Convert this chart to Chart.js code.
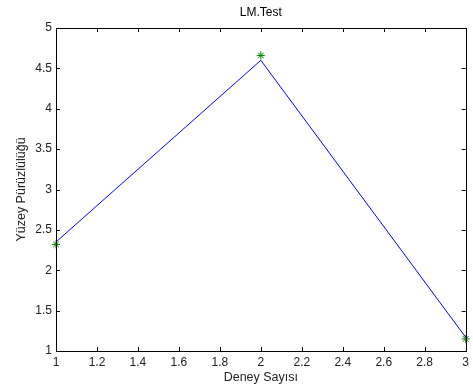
<!DOCTYPE html>
<html>
<head>
<meta charset="utf-8">
<script src="https://cdn.jsdelivr.net/npm/chart.js@4.4.0/dist/chart.umd.min.js"></script>
<style>
  html, body { margin: 0; padding: 0; background: #fff; }
  #wrap { width: 473px; height: 392px; }
</style>
</head>
<body>
<div id="wrap"><canvas id="c" width="473" height="392"></canvas></div>
<script>
// Experiment number on the x axis
const deneySayisi = [1, 2, 3];
// Fitted curve (blue line)
const lmFit = [2.35, 4.60, 1.17];
// Measured surface roughness (green stars)
const olcum = [2.32, 4.66, 1.15];

const xTicks = [1, 1.2, 1.4, 1.6, 1.8, 2, 2.2, 2.4, 2.6, 2.8, 3];
const yTicks = [1, 1.5, 2, 2.5, 3, 3.5, 4, 4.5, 5];

const FAMILY = '"Liberation Sans", Arial, Helvetica, sans-serif';
const TICK_FONT = { family: FAMILY, size: 12 };
const LABEL_FONT = { family: FAMILY, size: 12.5 };

// Inner tick marks on all four sides plus the axes box
const boxTicks = {
  id: 'boxTicks',
  afterDraw(chart) {
    const { ctx, chartArea: a, scales } = chart;
    const len = 4;
    ctx.save();
    ctx.strokeStyle = '#000';
    ctx.lineWidth = 1;
    ctx.beginPath();
    xTicks.forEach(v => {
      const px = Math.round(scales.x.getPixelForValue(v)) + 0.5;
      ctx.moveTo(px, a.bottom); ctx.lineTo(px, a.bottom - len);
      ctx.moveTo(px, a.top); ctx.lineTo(px, a.top + len);
    });
    yTicks.forEach(v => {
      const py = Math.round(scales.y.getPixelForValue(v)) + 0.5;
      ctx.moveTo(a.left, py); ctx.lineTo(a.left + len, py);
      ctx.moveTo(a.right, py); ctx.lineTo(a.right - len, py);
    });
    ctx.stroke();
    ctx.strokeRect(Math.round(a.left) + 0.5, Math.round(a.top) + 0.5,
                   Math.round(a.right - a.left), Math.round(a.bottom - a.top));
    ctx.restore();
  }
};

new Chart(document.getElementById('c'), {
  type: 'line',
  data: {
    datasets: [
      {
        label: 'LM',
        data: deneySayisi.map((x, i) => ({ x, y: lmFit[i] })),
        borderColor: '#0000ff',
        borderWidth: 1,
        pointRadius: 0,
        tension: 0,
        fill: false
      },
      {
        label: 'Ölçüm',
        data: deneySayisi.map((x, i) => ({ x, y: olcum[i] })),
        showLine: false,
        pointStyle: 'star',
        pointRadius: 4,
        borderColor: '#008000',
        backgroundColor: '#008000',
        pointBorderWidth: 1
      }
    ]
  },
  options: {
    responsive: false,
    animation: false,
    clip: false,
    layout: { padding: { left: 0, right: 5, top: 0, bottom: 0 } },
    plugins: {
      legend: { display: false },
      tooltip: { enabled: false },
      title: {
        display: true,
        text: 'LM.Test',
        fullSize: false,
        color: '#000',
        font: { ...TICK_FONT, weight: 'normal' },
        padding: { top: 5.8, bottom: 7.8 }
      }
    },
    scales: {
      x: {
        type: 'linear',
        min: 1, max: 3,
        afterBuildTicks: s => { s.ticks = xTicks.map(v => ({ value: v })); },
        afterFit: s => { s.height = 41; },
        grid: { display: false, drawTicks: false },
        border: { display: false },
        ticks: {
          color: '#222', font: TICK_FONT, padding: 4, maxRotation: 0, autoSkip: false,
          callback: v => String(Math.round(v * 10) / 10)
        },
        title: {
          display: true, text: 'Deney Sayısı', color: '#222', font: LABEL_FONT,
          padding: { top: 0, bottom: 6.5 }
        }
      },
      y: {
        type: 'linear',
        min: 1, max: 5,
        afterBuildTicks: s => { s.ticks = yTicks.map(v => ({ value: v })); },
        afterFit: s => { s.width = 56; },
        grid: { display: false, drawTicks: false },
        border: { display: false },
        ticks: {
          color: '#222', font: TICK_FONT, padding: 4, autoSkip: false,
          callback: v => String(Math.round(v * 10) / 10)
        },
        title: {
          display: true, text: 'Yüzey Pürüzlülüğü', color: '#222', font: LABEL_FONT,
          padding: { top: 14, bottom: 0 }
        }
      }
    }
  },
  plugins: [boxTicks]
});
</script>
</body>
</html>
